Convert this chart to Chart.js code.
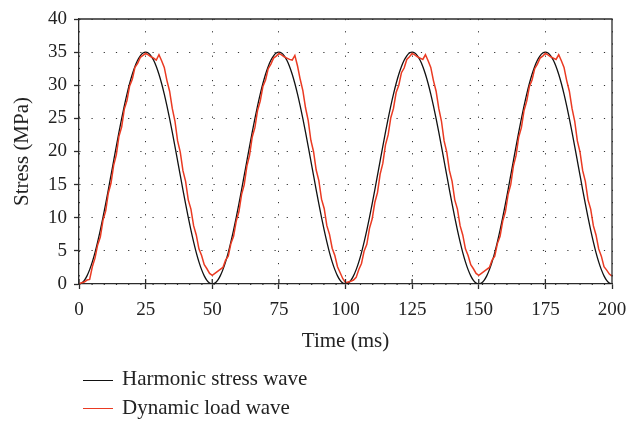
<!DOCTYPE html>
<html>
<head>
<meta charset="utf-8">
<script src="https://cdn.jsdelivr.net/npm/chart.js@4/dist/chart.umd.min.js"></script>
<style>
  html, body { margin: 0; padding: 0; background: #fff; }
  #wrap { position: relative; width: 629px; height: 421px; }
  canvas { position: absolute; left: 0; top: 0; }
  .key { position: absolute; left: 83px; width: 30px; height: 1.3px; }
  .keyText { position: absolute; left: 122px; font: 21px/21px "Liberation Serif", "Times New Roman", serif; color: #222; white-space: nowrap; }
</style>
</head>
<body>
<div id="wrap">
  <canvas id="chart" width="629" height="421"></canvas>
  <div class="key" style="top:379.5px;background:#111;"></div>
  <div class="keyText" style="top:368px;">Harmonic stress wave</div>
  <div class="key" style="top:407.5px;background:#ea3a22;"></div>
  <div class="keyText" style="top:397px;">Dynamic load wave</div>
</div>
<script>
// Sampling interval of both records (ms)
const SAMPLE_STEP_MS = 1;

// Harmonic stress wave (MPa), one sample per millisecond from 0 to 200 ms
const harmonicStress = [
  0, 0.14, 0.55, 1.23, 2.17, 3.34, 4.74, 6.35, 8.12, 10.05, 12.09, 14.22, 16.40, 18.60, 20.78, 22.91, 24.95, 26.88, 28.66, 30.26, 31.66, 32.84, 33.77, 34.45, 34.86,
  35, 34.86, 34.45, 33.77, 32.84, 31.66, 30.26, 28.66, 26.88, 24.95, 22.91, 20.78, 18.60, 16.40, 14.22, 12.09, 10.05, 8.12, 6.35, 4.74, 3.34, 2.17, 1.23, 0.55, 0.14,
  0, 0.14, 0.55, 1.23, 2.17, 3.34, 4.74, 6.35, 8.12, 10.05, 12.09, 14.22, 16.40, 18.60, 20.78, 22.91, 24.95, 26.88, 28.66, 30.26, 31.66, 32.84, 33.77, 34.45, 34.86,
  35, 34.86, 34.45, 33.77, 32.84, 31.66, 30.26, 28.66, 26.88, 24.95, 22.91, 20.78, 18.60, 16.40, 14.22, 12.09, 10.05, 8.12, 6.35, 4.74, 3.34, 2.17, 1.23, 0.55, 0.14,
  0, 0.14, 0.55, 1.23, 2.17, 3.34, 4.74, 6.35, 8.12, 10.05, 12.09, 14.22, 16.40, 18.60, 20.78, 22.91, 24.95, 26.88, 28.66, 30.26, 31.66, 32.84, 33.77, 34.45, 34.86,
  35, 34.86, 34.45, 33.77, 32.84, 31.66, 30.26, 28.66, 26.88, 24.95, 22.91, 20.78, 18.60, 16.40, 14.22, 12.09, 10.05, 8.12, 6.35, 4.74, 3.34, 2.17, 1.23, 0.55, 0.14,
  0, 0.14, 0.55, 1.23, 2.17, 3.34, 4.74, 6.35, 8.12, 10.05, 12.09, 14.22, 16.40, 18.60, 20.78, 22.91, 24.95, 26.88, 28.66, 30.26, 31.66, 32.84, 33.77, 34.45, 34.86,
  35, 34.86, 34.45, 33.77, 32.84, 31.66, 30.26, 28.66, 26.88, 24.95, 22.91, 20.78, 18.60, 16.40, 14.22, 12.09, 10.05, 8.12, 6.35, 4.74, 3.34, 2.17, 1.23, 0.55, 0.14,
  0
];

// Measured dynamic load wave (MPa), same sampling
const dynamicLoad = [
  0, 0.2, 0.3, 0.6, 0.7, 2.6, 3.9, 5.9, 7.1, 9.6, 11.0, 13.7, 15.2, 17.9, 19.5, 22.3, 23.7, 26.4, 27.7, 29.9, 30.9, 32.7, 33.3, 34.2, 34.5,
  34.8, 34.6, 34.3, 34.1, 33.8, 34.6, 33.7, 32.7, 30.7, 29.1, 26.5, 24.6, 21.6, 19.9, 17.1, 15.5, 12.7, 11.3, 8.8, 7.4, 5.3, 4.3, 2.9, 2.3, 1.6,
  1.3, 1.6, 1.9, 2.2, 2.5, 3.6, 4.2, 6.1, 7.2, 9.5, 10.9, 13.5, 15.0, 17.8, 19.4, 22.2, 23.6, 26.2, 27.6, 29.8, 30.8, 32.5, 33.2, 34.1, 34.4,
  34.8, 34.6, 34.3, 34.1, 33.9, 33.8, 34.5, 32.9, 30.9, 29.2, 26.6, 24.7, 21.7, 20.0, 17.2, 15.6, 12.8, 11.4, 8.8, 7.5, 5.4, 4.3, 2.6, 1.7, 0.8,
  0.2, 0.3, 0.4, 0.6, 1.0, 2.2, 3.1, 5.0, 6.0, 8.4, 9.8, 12.3, 13.8, 16.6, 18.2, 21.0, 22.5, 25.1, 26.5, 28.9, 30.0, 31.9, 32.6, 33.9, 34.3,
  34.8, 34.6, 34.3, 34.1, 33.9, 34.6, 33.7, 32.7, 30.7, 29.1, 26.5, 24.6, 21.6, 19.9, 17.1, 15.5, 12.7, 11.3, 8.8, 7.4, 5.3, 4.3, 2.9, 2.3, 1.6,
  1.3, 1.6, 1.9, 2.2, 2.5, 3.6, 4.2, 6.1, 7.2, 9.5, 10.9, 13.5, 15.0, 17.8, 19.4, 22.2, 23.6, 26.2, 27.6, 29.8, 30.8, 32.5, 33.2, 34.1, 34.4,
  34.8, 34.6, 34.3, 34.1, 33.9, 34.6, 33.7, 32.7, 30.7, 29.1, 26.5, 24.6, 21.6, 19.9, 17.1, 15.5, 12.7, 11.3, 8.8, 7.4, 5.3, 4.2, 2.6, 2.1, 1.5,
  1.2
];

// Axis ranges and tick steps
const timeRange = [0, 200];
const timeStep = 25;
const stressRange = [0, 40];
const stressStep = 5;

const AXIS_COLOR = '#2b2b2b';
const FONT_FAMILY = '"Liberation Serif", "Times New Roman", serif';

const toPoints = values => values.map((v, i) => ({ x: i * SAMPLE_STEP_MS, y: v }));

// Closes the plot box on the top and right, and adds the inner half of the time ticks
const frameBox = {
  id: 'frameBox',
  afterDraw(chart) {
    const { ctx, chartArea: a, scales: { x } } = chart;
    ctx.save();
    ctx.strokeStyle = AXIS_COLOR;
    ctx.lineWidth = 1.3;
    ctx.beginPath();
    ctx.moveTo(a.left, a.top);
    ctx.lineTo(a.right, a.top);
    ctx.lineTo(a.right, a.bottom);
    x.ticks.forEach(t => {
      const px = x.getPixelForValue(t.value);
      ctx.moveTo(px, a.bottom);
      ctx.lineTo(px, a.bottom - 5);
    });
    ctx.stroke();
    ctx.restore();
  }
};

new Chart(document.getElementById('chart'), {
  type: 'line',
  data: {
    datasets: [
      {
        label: 'Harmonic stress wave',
        data: toPoints(harmonicStress),
        borderColor: '#111111',
        borderWidth: 1.3,
        pointRadius: 0,
        cubicInterpolationMode: 'monotone',
        order: 1
      },
      {
        label: 'Dynamic load wave',
        data: toPoints(dynamicLoad),
        borderColor: '#ea3a22',
        borderWidth: 1.5,
        pointRadius: 0,
        tension: 0,
        order: 0
      }
    ]
  },
  options: {
    responsive: false,
    animation: false,
    devicePixelRatio: 1,
    layout: { padding: { left: 0, top: 19, right: 17, bottom: 67 } },
    plugins: { legend: { display: false }, tooltip: { enabled: false } },
    scales: {
      x: {
        type: 'linear',
        min: timeRange[0],
        max: timeRange[1],
        ticks: {
          stepSize: timeStep,
          padding: 10,
          color: '#222',
          font: { family: FONT_FAMILY, size: 19 },
          maxRotation: 0
        },
        grid: { color: '#333', lineWidth: 1, tickLength: 5, tickColor: AXIS_COLOR, tickWidth: 1.3 },
        border: { color: AXIS_COLOR, width: 1.3, dash: [1.2, 11] },
        title: {
          display: true,
          text: 'Time (ms)',
          color: '#222',
          font: { family: FONT_FAMILY, size: 21 },
          padding: { top: 0, bottom: 0 }
        },
        afterFit(scale) {
          scale.height = 70;
          scale.paddingLeft = 0;
          scale.paddingRight = 0;
        }
      },
      y: {
        min: stressRange[0],
        max: stressRange[1],
        ticks: {
          stepSize: stressStep,
          padding: 7,
          color: '#222',
          font: { family: FONT_FAMILY, size: 19 }
        },
        grid: { color: '#333', lineWidth: 1, tickLength: 5, tickColor: AXIS_COLOR, tickWidth: 1.3 },
        border: { color: AXIS_COLOR, width: 1.3, dash: [1.2, 11] },
        title: {
          display: true,
          text: 'Stress (MPa)',
          color: '#222',
          font: { family: FONT_FAMILY, size: 21 },
          padding: { top: 10, bottom: 0 }
        },
        afterFit(scale) {
          scale.width = 79;
          scale.paddingTop = 0;
          scale.paddingBottom = 0;
        }
      }
    }
  },
  plugins: [frameBox]
});
</script>
</body>
</html>
